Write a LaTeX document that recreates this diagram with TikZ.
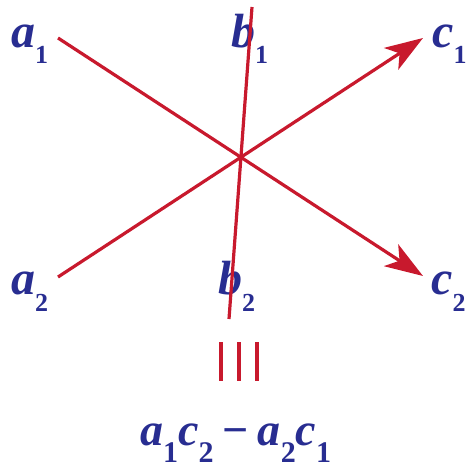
\documentclass[tikz,border=0pt]{standalone}
\usepackage{fontspec}
\setmainfont{Liberation Serif}[BoldItalicFont={Liberation Serif Bold Italic},BoldFont={Liberation Serif Bold}]
\usetikzlibrary{arrows.meta}
\definecolor{lblblue}{RGB}{40,45,145}
\definecolor{lnred}{RGB}{200,25,45}
\newcommand{\Ltr}[2]{{\fontsize{#2}{#2}\selectfont\bfseries\itshape #1}}
\newcommand{\Sub}[3]{\raisebox{-#3}{\fontsize{#2}{#2}\selectfont\bfseries #1}}
\begin{document}
\begin{tikzpicture}[x=1pt,y=-1pt,
  lbl/.style={inner sep=0pt,anchor=base west,text=lblblue},
  redline/.style={draw=lnred,line width=3.2pt},
  arr/.style={redline,-{Stealth[length=38pt,width=26pt,inset=10pt]}}]
\useasboundingbox (0,0) rectangle (474,471);
% labels
\node[lbl] (a1) at (11,47) {\Ltr{a}{48}\Sub{1}{26}{16pt}};
\node[lbl] (b1) at (231,47) {\Ltr{b}{48}\Sub{1}{26}{16pt}};
\node[lbl] (c1) at (432,47) {\Ltr{c}{48}\Sub{1}{26}{16pt}};
\node[lbl] (a2) at (11,294) {\Ltr{a}{48}\Sub{2}{26}{17pt}};
\node[lbl] (b2) at (218,294) {\Ltr{b}{48}\Sub{2}{26}{17pt}};
\node[lbl] (c2) at (431,294) {\Ltr{c}{48}\Sub{2}{26}{17pt}};
% line end points
\coordinate (s1) at (58,38);
\coordinate (t1) at (423,276);
\coordinate (s2) at (58,277);
\coordinate (t2) at (423,38);
\coordinate (bt) at (252,7);
\coordinate (bb) at (229,319);
\draw[arr] (s1) -- (t1);
\draw[arr] (s2) -- (t2);
\draw[redline] (bt) -- (bb);
% equivalence bars
\foreach \x/\n in {221/p,239/q,257/r}{
  \coordinate (\n top) at (\x,342);
  \coordinate (\n bot) at (\x,381);
  \draw[redline,line width=3.4pt] (\n top) -- (\n bot);
}
% result
\node[inner sep=0pt,anchor=base west,text=lblblue] (res) at (140,445)
  {\Ltr{a}{46}\Sub{1}{30}{17pt}\Ltr{c}{46}\Sub{2}{30}{17pt}%
   \hspace{9pt}{\fontsize{46}{46}\selectfont\bfseries −}\hspace{9pt}%
   \Ltr{a}{46}\Sub{2}{30}{17pt}\Ltr{c}{46}\Sub{1}{30}{17pt}};
\end{tikzpicture}
\end{document}
